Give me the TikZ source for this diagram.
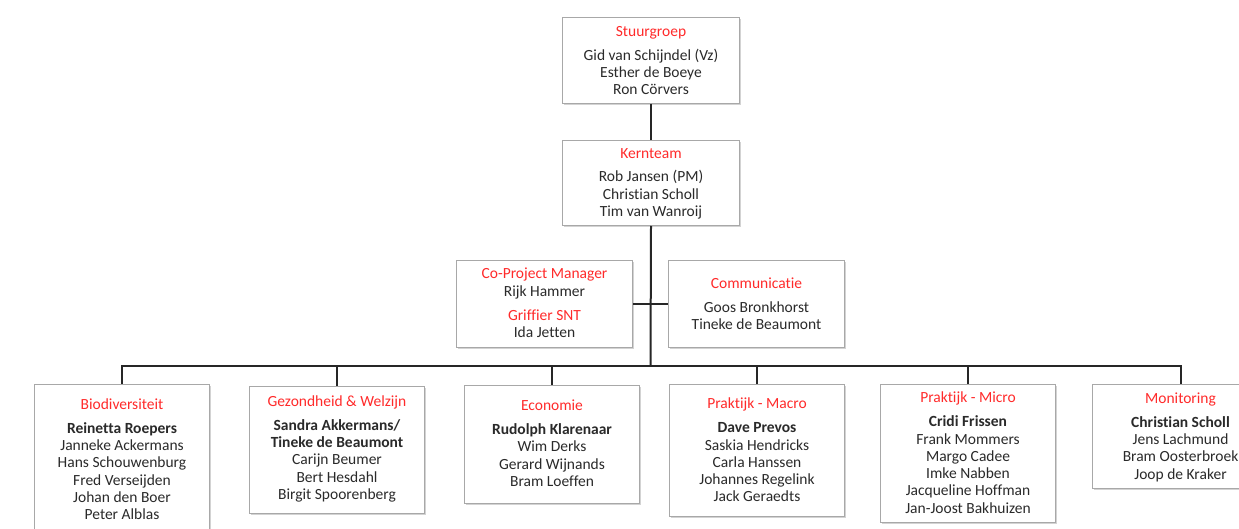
\documentclass[tikz,border=0pt]{standalone}
\usepackage{fontspec}
\setmainfont[Ligatures=NoCommon]{Carlito}
\usetikzlibrary{shadows}
\definecolor{titlered}{HTML}{FF2A2A}
\definecolor{nametxt}{HTML}{2A2A2A}
\definecolor{boxline}{HTML}{A8A8A8}
\newcommand{\rtitle}[1]{\textcolor{titlered}{#1}}
\tikzset{
  orgbox/.style={draw=boxline, line width=1pt, fill=white, inner sep=0pt, anchor=north west,
    drop shadow={shadow xshift=1.2pt, shadow yshift=-1.2pt, opacity=0.35, fill=gray}},
  orgtext/.style={align=center, inner sep=0pt, anchor=north, text=nametxt,
    font=\fontsize{15.5}{17.3}\selectfont},
  link/.style={draw=black!85, line width=2pt},
}
\begin{document}
\begin{tikzpicture}[x=1pt,y=-1pt]
\useasboundingbox (0,0) rectangle (1239,529);
% top boxes
\node[orgbox, minimum width=177pt, minimum height=86pt] (stuur) at (562,17) {};
\node[orgbox, minimum width=177pt, minimum height=85pt] (kern) at (562,140) {};
\node[orgbox, minimum width=176pt, minimum height=87pt] (copm) at (456,260) {};
\node[orgbox, minimum width=176pt, minimum height=87pt] (comm) at (668,260) {};
% bottom boxes
\node[orgbox, minimum width=175pt, minimum height=160pt] (bio) at (34,384) {};
\node[orgbox, minimum width=175pt, minimum height=127pt] (gez) at (249,386) {};
\node[orgbox, minimum width=175pt, minimum height=118pt] (eco) at (464,385) {};
\node[orgbox, minimum width=175pt, minimum height=132pt] (mac) at (669,384) {};
\node[orgbox, minimum width=175pt, minimum height=138pt] (mic) at (880,384) {};
\node[orgbox, minimum width=176pt, minimum height=104pt] (mon) at (1092,384) {};
% texts
\node[orgtext] (stuurT) at ([yshift=-9pt]stuur.north) {\rtitle{Stuurgroep}\\[6.5pt] Gid van Schijndel (Vz)\\ Esther de Boeye\\ Ron Cörvers};
\node[orgtext] (kernT) at ([yshift=-8pt]kern.north) {\rtitle{Kernteam}\\[6.5pt] Rob Jansen (PM)\\ Christian Scholl\\ Tim van Wanroij};
\node[orgtext] (copmT) at ([yshift=-8pt]copm.north) {\rtitle{Co-Project Manager}\\[0.5pt] Rijk Hammer\\[6.5pt] \rtitle{Griffier SNT}\\ Ida Jetten};
\node[orgtext] (commT) at ([yshift=-18pt]comm.north) {\rtitle{Communicatie}\\[6.5pt] Goos Bronkhorst\\ Tineke de Beaumont};
\node[orgtext] (bioT) at ([yshift=-15pt]bio.north) {\rtitle{Biodiversiteit}\\[6pt] \textbf{Reinetta Roepers}\\ Janneke Ackermans\\ Hans Schouwenburg\\ Fred Verseijden\\ Johan den Boer\\ Peter Alblas};
\node[orgtext] (gezT) at ([yshift=-10pt]gez.north) {\rtitle{Gezondheid \& Welzijn}\\[6pt] \textbf{Sandra Akkermans/}\\ \textbf{Tineke de Beaumont}\\ Carijn Beumer\\ Bert Hesdahl\\ Birgit Spoorenberg};
\node[orgtext] (ecoT) at ([yshift=-15pt]eco.north) {\rtitle{Economie}\\[6.5pt] \textbf{Rudolph Klarenaar}\\ Wim Derks\\ Gerard Wijnands\\ Bram Loeffen};
\node[orgtext] (macT) at ([yshift=-14pt]mac.north) {\rtitle{Praktijk - Macro}\\[6.5pt] \textbf{Dave Prevos}\\ Saskia Hendricks\\ Carla Hanssen\\ Johannes Regelink\\ Jack Geraedts};
\node[orgtext] (micT) at ([yshift=-8pt]mic.north) {\rtitle{Praktijk - Micro}\\[6.5pt] \textbf{Cridi Frissen}\\ Frank Mommers\\ Margo Cadee\\ Imke Nabben\\ Jacqueline Hoffman\\ Jan-Joost Bakhuizen};
\node[orgtext] (monT) at ([yshift=-9pt]mon.north) {\rtitle{Monitoring}\\[6pt] \textbf{Christian Scholl}\\ Jens Lachmund\\ Bram Oosterbroek\\ Joop de Kraker};
% connectors
\coordinate (bus) at (650.5,366);
\draw[link] (stuur.south) -- (kern.north);
\draw[link] (kern.south) -- (bus);
\draw[link] (copm.east) -- (comm.west);
\draw[link] (bus) -| (bio.north);
\draw[link] (bus) -| (gez.north);
\draw[link] (bus) -| (eco.north);
\draw[link] (bus) -| (mac.north);
\draw[link] (bus) -| (mic.north);
\draw[link] (bus) -| (mon.north);
\end{tikzpicture}
\end{document}
